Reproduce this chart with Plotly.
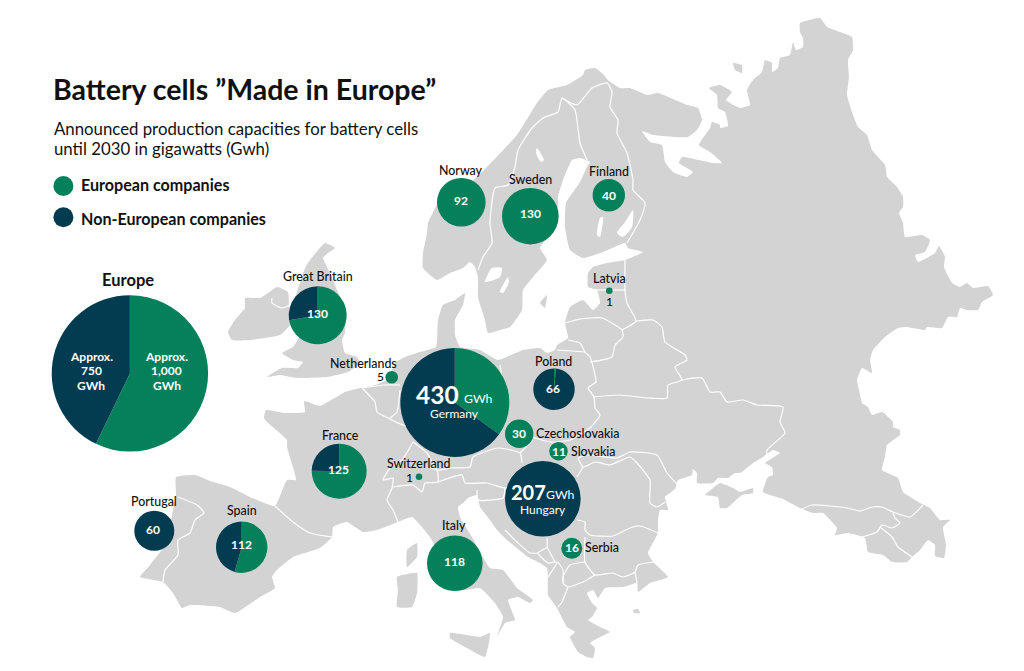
import plotly.graph_objects as go

GREEN = "#04805a"
NAVY = "#033c50"
LAND = "#d3d3d3"
INK = "#111111"

# pie values, gigawatt hours
countries = ["Norway", "Sweden", "Finland", "Latvia", "Great Britain", "Netherlands", "Poland",
             "Czechoslovakia", "Slovakia", "Germany", "France", "Switzerland", "Hungary",
             "Portugal", "Spain", "Italy", "Serbia"]
european = [92, 130, 40, 1, 94, 5, 1, 30, 11, 150, 94, 1, 0, 0, 61, 118, 16]
non_european = [0, 0, 0, 0, 36, 0, 65, 0, 0, 280, 31, 0, 207, 60, 51, 0, 0]
europe_total = [1000, 750]

# where the pies sit on the page
pie_x = [461.3, 530.3, 608.8, 609.3, 317.7, 391.7, 554, 519.2, 558.5, 454.8, 339.2, 419, 542.8,
         154.3, 241.7, 454.8, 571.8]
pie_y = [202.2, 216.2, 195.2, 290.7, 315.3, 377.3, 389.2, 433.7, 451.2, 402.5, 471.2, 476.7, 498.8,
         530.8, 547.2, 563.3, 548.3]
pie_r = [24.3, 28.3, 16.2, 3.3, 29, 6.3, 20.7, 14.2, 9.2, 54.5, 27.5, 3.3, 37.8,
         20, 25.7, 27.8, 10.5]

# base map in page pixels
mainland = [
    (140, 577), (150, 565), (165, 545), (172, 515), (176, 495), (176, 477), (195, 475), (210, 481),
    (230, 487), (250, 497), (275, 506), (287, 480), (296, 480), (293, 467), (287, 447), (287, 440),
    (267, 422), (264, 418), (266, 410), (285, 413), (305, 412), (304, 401), (320, 406), (345, 392),
    (360, 388), (375, 385), (387, 380), (392, 370), (396, 362), (405, 357), (420, 352), (436, 347),
    (438, 320), (443, 305), (455, 300), (465, 293), (463, 305), (455, 320), (455, 335), (460, 347),
    (480, 350), (498, 360), (523, 350), (540, 348), (547, 353), (555, 350), (557, 345), (568, 338),
    (565, 323), (570, 307), (583, 300), (593, 310), (600, 303), (597, 290), (588, 287), (588, 273),
    (593, 267), (607, 263), (625, 260), (643, 252), (628, 248), (625, 243), (603, 252), (583, 258),
    (570, 250), (565, 227), (566, 203), (580, 182), (587, 167), (590, 162), (580, 158), (572, 160),
    (563, 180), (558, 197), (558, 223), (540, 248), (547, 260), (533, 277), (523, 290), (522, 310),
    (510, 327), (500, 330), (488, 333), (485, 320), (478, 297), (478, 277), (475, 267), (470, 262),
    (463, 268), (450, 273), (437, 280), (423, 268), (423, 253), (427, 233), (428, 223), (440, 200),
    (470, 183), (487, 167), (517, 135), (537, 103), (548, 90), (567, 85), (583, 75), (585, 70),
    (595, 68), (602, 73), (608, 80), (620, 88), (630, 88), (647, 95), (658, 93), (687, 105),
    (698, 108), (702, 120), (697, 130), (688, 137), (675, 137), (653, 135), (642, 131), (650, 142),
    (662, 145), (665, 162), (673, 172), (687, 177), (693, 172), (679, 163), (682, 157), (713, 163),
    (722, 163), (710, 152), (699, 145), (710, 128), (712, 122), (720, 125), (720, 128), (728, 126),
    (725, 112), (718, 108), (717, 95), (709, 88), (720, 85), (732, 92), (726, 100), (740, 108),
    (750, 105), (747, 90), (753, 80), (762, 72), (765, 60), (772, 63), (772, 72), (778, 68),
    (780, 58), (790, 55), (793, 42), (796, 50), (803, 47), (803, 38), (800, 32), (800, 23),
    (820, 18), (827, 27), (840, 32), (852, 37), (853, 50), (848, 60), (849, 77), (847, 95),
    (853, 115), (858, 127), (867, 135), (872, 150), (885, 165), (887, 177), (897, 187), (903, 197),
    (903, 207), (899, 213), (903, 223), (905, 237), (922, 235), (930, 240), (925, 252), (915, 255),
    (918, 262), (935, 253), (939, 246), (945, 257), (944, 267), (952, 283), (960, 287), (967, 283),
    (973, 288), (988, 286), (993, 295), (982, 302), (978, 310), (967, 310), (960, 308), (957, 317),
    (948, 317), (942, 328), (927, 327), (925, 330), (907, 327), (898, 328), (885, 337), (873, 350),
    (870, 360), (872, 373), (862, 368), (857, 380), (859, 390), (862, 403), (868, 407), (872, 415),
    (882, 412), (893, 422), (893, 427), (900, 430), (900, 435), (887, 445), (885, 457), (882, 470),
    (898, 478), (903, 492), (922, 504), (930, 508), (940, 520), (950, 520), (943, 527), (946, 545),
    (944, 558), (935, 556), (935, 545), (928, 540), (920, 550), (912, 557), (907, 562), (892, 562),
    (883, 555), (868, 552), (865, 538), (848, 533), (835, 535), (837, 528), (823, 513), (813, 513),
    (802, 509), (783, 499), (763, 492), (768, 477), (773, 475), (772, 467), (765, 463), (780, 453),
    (773, 450), (763, 457), (753, 463), (740, 473), (735, 473), (728, 478), (718, 478), (713, 483),
    (697, 483), (697, 473), (693, 469), (692, 475), (678, 480), (675, 489), (665, 497), (668, 510),
    (660, 510), (658, 520), (658, 533), (648, 553), (653, 562), (668, 577), (650, 583), (638, 592),
    (637, 583), (623, 587), (605, 588), (598, 598), (593, 590), (587, 593), (592, 603), (597, 608),
    (592, 617), (588, 620), (600, 627), (610, 632), (602, 636), (590, 643), (595, 648), (593, 658),
    (587, 657), (578, 652), (570, 637), (575, 632), (567, 627), (557, 608), (548, 595), (548, 577),
    (547, 568), (540, 563), (528, 557), (507, 540), (497, 530), (490, 520), (480, 507), (477, 495),
    (468, 498), (463, 503), (458, 507), (460, 517), (472, 537), (490, 568), (503, 570), (517, 588),
    (533, 600), (530, 603), (518, 597), (508, 600), (515, 620), (505, 623), (497, 637), (503, 617),
    (495, 603), (480, 588), (460, 590), (430, 537), (412, 517), (398, 522), (377, 530), (363, 532),
    (347, 522), (333, 527), (332, 537), (320, 548), (293, 557), (277, 570), (272, 577), (275, 588),
    (260, 597), (235, 613), (220, 607), (190, 605), (182, 608), (173, 593), (163, 582),
]
britain = [
    (325, 243), (335, 248), (328, 253), (323, 258), (327, 267), (335, 285), (345, 310), (345, 333),
    (342, 340), (345, 353), (357, 357), (360, 363), (348, 372), (327, 377), (297, 378), (280, 375),
    (267, 377), (282, 368), (298, 368), (303, 362), (293, 360), (282, 353), (293, 347), (300, 335),
    (295, 300), (302, 277), (305, 268), (310, 260),
]
ireland = [
    (228, 332), (235, 320), (245, 308), (245, 298), (260, 298), (268, 293), (277, 287), (288, 292),
    (289, 310), (290, 325), (280, 335), (250, 340), (232, 340),
]
crimea = [
    (705, 495), (718, 497), (720, 508), (727, 508), (742, 495), (753, 493), (753, 488), (740, 492),
    (733, 488), (720, 483), (713, 488),
]
corsica = [(407, 567), (407, 550), (417, 543), (417, 557)]
sardinia = [(397, 577), (417, 573), (417, 593), (412, 607), (397, 607), (398, 590)]
sicily = [(450, 633), (480, 637), (490, 633), (485, 657), (467, 648), (450, 638)]
gotland = [(540, 303), (547, 295), (545, 308)]
arctic_isle = [(733, 63), (742, 65), (742, 73), (735, 70)]
aegean_isle = [(633, 610), (638, 609), (640, 613), (634, 613)]
land_rings = [mainland, britain, ireland, crimea, corsica, sardinia, sicily, gotland, arctic_isle,
              aegean_isle]

lakes = [
    [(485, 282), (492, 268), (502, 268), (500, 277)],
    [(500, 292), (508, 277), (509, 282), (503, 293)],
    [(537, 148), (544, 160), (541, 162), (536, 153)],
    [(617, 233), (625, 222), (633, 210), (632, 227), (623, 237)],
    [(600, 218), (603, 217), (600, 237), (597, 235)],
]

borders = [
    [(178, 497), (197, 505), (204, 513), (195, 520), (190, 533), (178, 540), (178, 555), (165, 570), (163, 582)],
    [(275, 506), (293, 522), (310, 533), (332, 537)],
    [(362, 388), (375, 402), (377, 412), (388, 418), (398, 423), (408, 427)],
    [(362, 388), (385, 385), (400, 385)],
    [(400, 390), (397, 412), (390, 418)],
    [(413, 442), (402, 460), (390, 468), (383, 480), (393, 478), (392, 488), (387, 500), (393, 510), (398, 522)],
    [(393, 487), (413, 485), (422, 492), (425, 483), (438, 482), (437, 470), (430, 468)],
    [(413, 442), (427, 453), (437, 470), (450, 468), (470, 467), (473, 457), (498, 448), (520, 453), (522, 463)],
    [(438, 482), (462, 475), (465, 483), (487, 483), (505, 488), (520, 485)],
    [(477, 490), (478, 500), (503, 498), (505, 488)],
    [(520, 453), (533, 440)],
    [(500, 365), (503, 385)],
    [(532, 437), (550, 442), (570, 440), (590, 428), (600, 415), (595, 408), (594, 397), (588, 388), (596, 382), (595, 375), (590, 357), (585, 352), (580, 343), (568, 340)],
    [(557, 350), (585, 352)],
    [(590, 362), (612, 357), (615, 345), (623, 337), (622, 330), (602, 318), (580, 319), (565, 323)],
    [(622, 330), (636, 321), (627, 303), (625, 290), (625, 260)],
    [(595, 290), (625, 290)],
    [(636, 321), (653, 320), (662, 327), (665, 342), (685, 355), (687, 360), (675, 367), (682, 380), (668, 385), (667, 398), (648, 398), (620, 395), (593, 397)],
    [(682, 380), (702, 378), (710, 392), (720, 392), (727, 402), (743, 400), (757, 405), (783, 407), (780, 422), (785, 433), (767, 450), (767, 457)],
    [(578, 458), (587, 455), (617, 458), (630, 452), (657, 455), (667, 473), (680, 487)],
    [(578, 458), (583, 467), (595, 462), (610, 465), (630, 457), (637, 463), (650, 480), (650, 503), (657, 507), (665, 502)],
    [(583, 467), (577, 477)],
    [(577, 520), (585, 522), (585, 530), (590, 535), (613, 536), (630, 528), (640, 526), (658, 533)],
    [(585, 537), (585, 562), (595, 575), (613, 573), (623, 577), (635, 572), (638, 565), (655, 562)],
    [(635, 572), (637, 583)],
    [(595, 575), (583, 582), (568, 587), (563, 583), (563, 577), (570, 565), (585, 562)],
    [(568, 587), (562, 602), (558, 607)],
    [(558, 562), (563, 570), (563, 583)],
    [(548, 577), (557, 562), (548, 563), (538, 553), (547, 547), (547, 538)],
    [(505, 530), (517, 542), (530, 553), (538, 553)],
    [(547, 547), (555, 562)],
    [(478, 270), (483, 257), (492, 243), (490, 223), (495, 188), (508, 185), (515, 167), (518, 150), (532, 128), (543, 118), (558, 112), (562, 98), (575, 110), (580, 143), (587, 160)],
    [(562, 98), (577, 105), (592, 88), (607, 83), (612, 92), (610, 107), (618, 120), (617, 133), (627, 153), (633, 180), (633, 190), (645, 203), (640, 220), (627, 243)],
    [(802, 509), (812, 505), (847, 508), (860, 511), (872, 507), (882, 507), (893, 512), (910, 517), (923, 505)],
    [(893, 513), (895, 518), (900, 523), (892, 528), (882, 525), (877, 532), (862, 537)],
    [(880, 527), (892, 537), (898, 547), (912, 557)],
    [(272, 298), (272, 303), (282, 308), (290, 305)],
]


def ring_xy(rings, close=True):
    xs, ys = [], []
    for ring in rings:
        pts = ring + ring[:1] if close else ring
        xs += [p[0] for p in pts] + [None]
        ys += [p[1] for p in pts] + [None]
    return xs, ys


fig = go.Figure()

land_x, land_y = ring_xy(land_rings)
fig.add_trace(go.Scatter(x=land_x, y=land_y, mode="lines", fill="toself", fillcolor=LAND,
                         line=dict(width=0, color=LAND, shape="spline", smoothing=0.4), hoverinfo="skip"))
lake_x, lake_y = ring_xy(lakes)
fig.add_trace(go.Scatter(x=lake_x, y=lake_y, mode="lines", fill="toself", fillcolor="white",
                         line=dict(width=0, color="white", shape="spline", smoothing=0.6), hoverinfo="skip"))
border_x, border_y = ring_xy(borders, close=False)
fig.add_trace(go.Scatter(x=border_x, y=border_y, mode="lines",
                         line=dict(width=1.2, color="white", shape="spline", smoothing=0.5),
                         hoverinfo="skip"))

# legend dots
fig.add_trace(go.Scatter(x=[63.4, 63.4], y=[186, 217.3], mode="markers",
                         marker=dict(size=20, color=[GREEN, NAVY]), hoverinfo="skip"))


def add_pie(name, values, cx, cy, r):
    fig.add_trace(go.Pie(
        labels=["European companies", "Non-European companies"], values=values, name=name,
        domain=dict(x=[(cx - r) / 1024, (cx + r) / 1024], y=[1 - (cy + r) / 671, 1 - (cy - r) / 671]),
        marker=dict(colors=[GREEN, NAVY], line=dict(width=0)),
        sort=False, direction="clockwise", rotation=0, textinfo="none",
    ))


for i, name in enumerate(countries):
    add_pie(name, [european[i], non_european[i]], pie_x[i], pie_y[i], pie_r[i])
add_pie("Europe", europe_total, 129.9, 373.4, 78.2)


def label(text, x, y, size=12.4, color=INK, anchor="center", weight=500):
    family = "Lato Medium, Lato" if weight == 500 else "Lato"
    fig.add_annotation(x=x, y=y, text=text, showarrow=False, xanchor=anchor, yanchor="middle",
                       font=dict(family=family, size=size, color=color, weight=weight),
                       borderpad=0, borderwidth=0)


label("Battery cells ”Made in Europe”", 53, 89, size=28.5, anchor="left", weight=700)
label("Announced production capacities for battery cells", 53.5, 128, size=16.8, anchor="left", weight=400)
label("until 2030 in gigawatts (Gwh)", 53.5, 148, size=16.8, anchor="left", weight=400)
label("European companies", 80.5, 184.5, size=16.1, anchor="left", weight=700)
label("Non-European companies", 80.5, 218, size=16.1, anchor="left", weight=700)
label("Europe", 128, 280, size=16.5, weight=700)

name_pos = {
    "Norway": (461, 170), "Sweden": (530, 179.5), "Finland": (608.5, 171), "Latvia": (609, 278.5),
    "Great Britain": (318, 276), "Netherlands": (363, 363), "Poland": (553.5, 361),
    "France": (340, 435), "Switzerland": (419, 463.5), "Portugal": (154, 501), "Spain": (242, 510),
    "Italy": (454, 525),
}
for name, (x, y) in name_pos.items():
    label(name, x, y)
label("Czechoslovakia", 536, 433, anchor="left")
label("Slovakia", 571, 451, anchor="left")
label("Serbia", 585, 547, anchor="left")

# the small plants carry their number outside the dot
label("5", 380, 376, size=12)
label("1", 409.5, 477, size=12)
label("1", 609.5, 301, size=12)

value_pos = {
    "Norway": (461, 200), "Sweden": (530, 213), "Finland": (608.5, 195), "Great Britain": (317, 313),
    "France": (338, 469), "Spain": (241, 544.5), "Portugal": (153, 529), "Italy": (454, 561),
    "Poland": (553, 388), "Czechoslovakia": (519, 433), "Slovakia": (558.5, 451), "Serbia": (571.5, 547.5),
}
for name, (x, y) in value_pos.items():
    i = countries.index(name)
    label(str(european[i] + non_european[i]), x, y, size=12, color="white", weight=700)

label("430", 437, 394, size=24.5, color="white", weight=700)
label("GWh", 478.5, 398, size=12.3, color="white", weight=400)
label("Germany", 454.5, 413, size=12, color="white", weight=400)
label("207", 528.7, 491.7, size=20, color="white", weight=700)
label("GWh", 560, 494.7, size=12.3, color="white", weight=400)
label("Hungary", 542.7, 509.3, size=12, color="white", weight=400)

for line, y in zip(["Approx.", "750", "GWh"], [356.3, 370.7, 385]):
    label(line, 91, y, size=12, color="white", weight=700)
for line, y in zip(["Approx.", "1,000", "GWh"], [356.3, 370.7, 385]):
    label(line, 166.5, y, size=12, color="white", weight=700)

fig.update_layout(
    width=1024, height=671, margin=dict(l=0, r=0, t=0, b=0), showlegend=False,
    paper_bgcolor="white", plot_bgcolor="white",
    xaxis=dict(range=[0, 1024], visible=False, fixedrange=True),
    yaxis=dict(range=[671, 0], visible=False, fixedrange=True),
)

fig.write_html("out.html", config=dict(displayModeBar=False),
               post_script="document.body.style.margin='0';document.body.style.overflow='hidden';")
